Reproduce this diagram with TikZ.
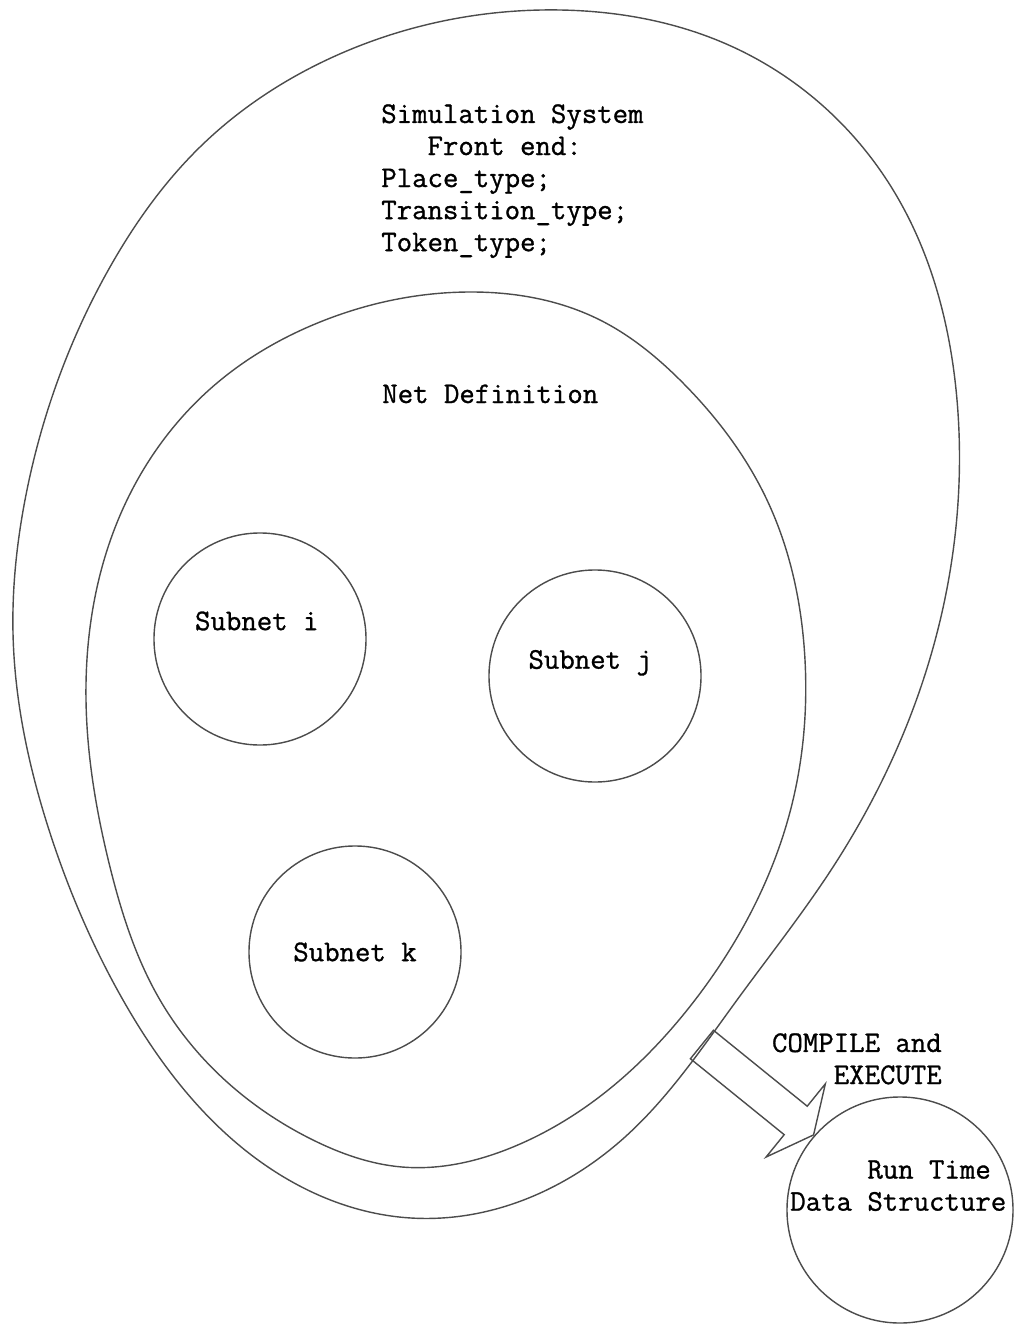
\documentclass[tikz,border=0pt]{standalone}
\usepackage{fontspec}
\setmonofont{Latin Modern Mono}[FakeBold=1]
\usetikzlibrary{shapes.arrows,positioning,hobby}

\begin{document}
\begin{tikzpicture}[
    x=0.025cm, y=-0.025cm,
    every node/.style={font=\ttfamily\fontsize{21.3}{22.8}\selectfont},
    line/.style={draw=black!70, line width=1pt},
    region/.style={line, use Hobby shortcut, closed=true},
    subnet/.style={line, circle, minimum size=5.3cm, inner sep=0pt},
    txt/.style={inner sep=0pt, align=left},
    bigarrow/.style={
        line, single arrow,
        minimum height=3.59cm,
        inner xsep=0pt, inner ysep=0.44cm,
        single arrow head extend=0.72cm,
        single arrow tip angle=128
    }
]
\useasboundingbox (0,0) rectangle (1015,1325);

%% ── Simulation system (outer region) ──────────────────
\draw[region] (560,10) .. (733,47) .. (890,185) .. (957,400) .. (937,633)
    .. (833,867) .. (737,1000) .. (625,1137) .. (411,1218) .. (268,1167)
    .. (123,1000) .. (50,833) .. (13,633) .. (25,500) .. (110,267)
    .. (200,147) .. (333,57);
\node[txt, anchor=north west] (front) at (381,104)
    {Simulation System\\\phantom{Sim}Front end:\\Place\_type;\\Transition\_type;\\Token\_type;};

%% ── Net definition (inner region) ─────────────────────
\draw[region] (470,292) .. (600,320) .. (683,383) .. (767,500) .. (805,660)
    .. (793,800) .. (695,1000) .. (513,1147) .. (402,1167) .. (313,1140)
    .. (160,1000) .. (110,867) .. (86,700) .. (127,500) .. (217,383)
    .. (320,322);
\node[txt, anchor=base west] (netdef) at (382,403) {Net Definition};

%% ── Subnets ───────────────────────────────────────────
\node[subnet, label={[txt, xshift=-0.08cm, yshift=0.45cm]center:Subnet i}] (subi) at (260,639) {};
\node[subnet, label={[txt, xshift=-0.12cm, yshift=0.33cm]center:Subnet j}] (subj) at (595,676) {};
\node[subnet, label={[txt]center:Subnet k}] (subk) at (355,952) {};

%% ── Run time data structure ───────────────────────────
\node[subnet, minimum size=5.65cm] (rt) at (900,1210) {};
\node[txt, anchor=north west] (rtlbl) at (790,1160)
    {\phantom{Data\ }Run Time\\Data Structure};

%% ── Compile arrow ─────────────────────────────────────
\node[bigarrow, rotate=-39, anchor=tip] (compile) at (rt.139) {};
\node[txt, align=right, anchor=north east] (cmplbl) at (942,1033)
    {COMPILE and\\EXECUTE};

\end{tikzpicture}
\end{document}
